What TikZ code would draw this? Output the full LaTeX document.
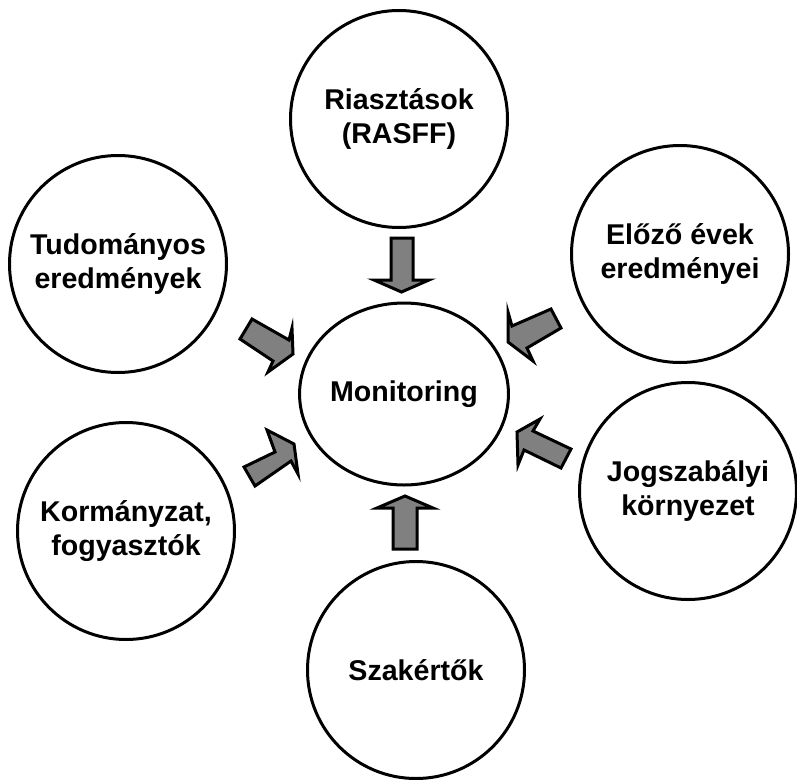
\documentclass[tikz,border=0pt]{standalone}
\usepackage{fontspec}
\setmainfont{Liberation Sans}
\usetikzlibrary{shapes.geometric}
\definecolor{ArrowGray}{HTML}{808080}
\tikzset{
  every node/.style={font=\bfseries\fontsize{28.6}{34}\selectfont, align=center},
  bubble/.style={circle, draw=black, line width=3pt, minimum size=217pt, inner sep=0pt},
  hub/.style={ellipse, draw=black, line width=3pt, minimum width=189pt, minimum height=182pt, inner sep=0pt},
  blockarrow/.style={draw=black, line width=3pt, fill=ArrowGray},
}
\begin{document}
\begin{tikzpicture}[x=1pt,y=-1pt]
  \useasboundingbox (0,0) rectangle (797,779);
  % Source circles around the hub
  \node[bubble] (riasztas) at (399,119) {Riasztások\\(RASFF)};
  \node[bubble] (tudomany) at (118,264) {Tudományos\\eredmények};
  \node[bubble] (elozo) at (680,254) {Előző évek\\eredményei};
  \node[bubble] (jog) at (688,491) {Jogszabályi\\környezet};
  \node[bubble] (kormany) at (126,531) {Kormányzat,\\fogyasztók};
  \node[bubble] (szakerto) at (416,670) {Szakértők};
  % Hub
  \node[hub] (monitor) at (404,394) {Monitoring};
  % Block arrows into the hub
  \draw[blockarrow] (391,238) -- (413,238) -- (413,280) -- (429,280) -- (401.5,292)
    -- (374,280) -- (391,280) -- cycle;
  \draw[blockarrow] (393,549) -- (417,549) -- (417,508) -- (433,508) -- (405,496)
    -- (377,508) -- (393,508) -- cycle;
  \draw[blockarrow] (252,319) -- (289,340) -- (292,328) -- (293,354) -- (268,372)
    -- (273,361) -- (240,339) -- cycle;
  \draw[blockarrow] (551,309) -- (561,328) -- (527,348) -- (533,361) -- (508,342)
    -- (508,312) -- (512,326) -- cycle;
  \draw[blockarrow] (244,467) -- (275,452) -- (267,430) -- (294,444) -- (298,474)
    -- (291,461) -- (255,486) -- cycle;
  \draw[blockarrow] (571,449) -- (561,468) -- (524,450) -- (518,465) -- (517,432)
    -- (540,419) -- (533,431) -- cycle;
\end{tikzpicture}
\end{document}
